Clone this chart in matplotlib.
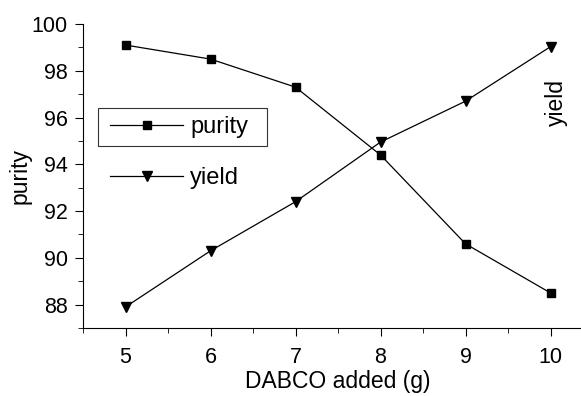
import matplotlib.pyplot as plt
from matplotlib.ticker import MultipleLocator
from matplotlib.patches import Rectangle

plt.rcParams['font.family'] = ['Liberation Sans', 'DejaVu Sans']

dabco = [5, 6, 7, 8, 9, 10]
purity = [99.1, 98.5, 97.3, 94.4, 90.6, 88.5]
yld = [87.9, 90.3, 92.4, 94.95, 96.7, 99.03]

fig = plt.figure(figsize=(5.81, 3.96), dpi=100)
ax = fig.add_axes([83/581, 68/396, 510/581, 304/396])

l1, = ax.plot(dabco, purity, color='black', lw=0.9, marker='s', ms=5.5, label='purity')
l2, = ax.plot(dabco, yld, color='black', lw=0.9, marker='v', ms=6.5, label='yield')

ax.set_xlim(4.5, 10.5)
ax.set_ylim(87, 100)
ax.xaxis.set_major_locator(MultipleLocator(1))
ax.xaxis.set_minor_locator(MultipleLocator(0.5))
ax.yaxis.set_major_locator(MultipleLocator(2))
ax.yaxis.set_minor_locator(MultipleLocator(1))
ax.spines['top'].set_visible(False)
ax.spines['right'].set_visible(False)
ax.tick_params(which='major', direction='out', length=6, labelsize=15.5)
ax.tick_params(axis='x', pad=8)
ax.tick_params(axis='y', pad=5)
ax.tick_params(which='minor', direction='out', length=3.5)
ax.set_xlabel('DABCO added (g)', fontsize=16.5, labelpad=1)
ax.set_ylabel('purity', fontsize=16.5)
ax.yaxis.set_label_coords((32 - 83) / 510, 0.5)

# frame only around the purity entry
fig.patches.append(Rectangle((98/581, 1-146/396), 169/581, 38/396, transform=fig.transFigure,
                             fill=False, edgecolor='#333333', lw=0.8))

leg1 = ax.legend(handles=[l1], loc='center left', bbox_to_anchor=(110/581, 1-127/396),
                 bbox_transform=fig.transFigure, fontsize=17, handlelength=3.1,
                 handletextpad=0.3, frameon=False, borderpad=0, borderaxespad=0)
ax.add_artist(leg1)
ax.legend(handles=[l2], loc='center left', bbox_to_anchor=(110/581, 1-178/396),
          bbox_transform=fig.transFigure, fontsize=17, handlelength=3.1,
          handletextpad=0.3, frameon=False, borderpad=0, borderaxespad=0)

fig.text(556/581, 1-103/396, 'yield', rotation=90, fontsize=16.5, ha='center', va='center')

fig.savefig('out.png', dpi=100)
